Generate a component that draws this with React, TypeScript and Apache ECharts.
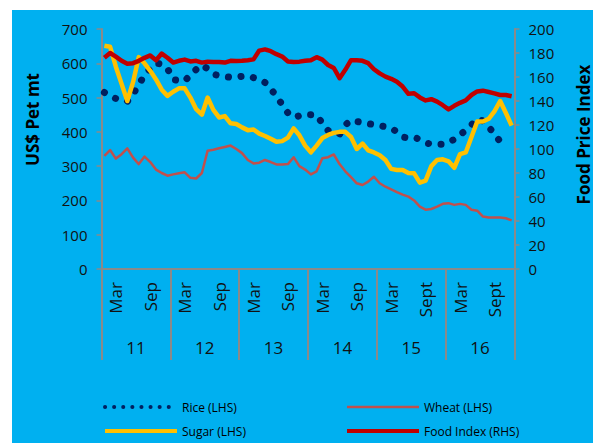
import React, { useEffect, useRef } from 'react';
import * as echarts from 'echarts';

const years = ['11', '12', '13', '14', '15', '16'];
const monthNames = ['Jan', 'Feb', 'Mar', 'Apr', 'May', 'Jun', 'Jul', 'Aug', 'Sep', 'Oct', 'Nov', 'Dec'];
const septLabelByYear = ['Sep', 'Sep', 'Sep', 'Sep', 'Sept', 'Sept'];
const shownMonths = [2, 8];

const leftTicks = { min: 0, max: 700, interval: 100 };
const rightTicks = { min: 0, max: 200, interval: 20 };

const rice = [
  515, 505, 497, 493, 489, 510, 538, 565, 585, 600, 598, 585,
  552, 550, 548, 566, 582, 595, 584, 568, 564, 561, 559, 560,
  562, 563, 558, 553, 544, 525, 505, 479, 455, 442, 447, 451,
  450, 449, 425, 404, 397, 393, 420, 434, 430, 428, 424, 421,
  418, 415, 411, 400, 385, 382, 384, 378, 368, 364, 364, 364,
  370, 378, 392, 404, 420, 438, 432, 415, 393, 372, null, null,
];
const wheat = [
  330, 347, 322, 335, 352, 325, 306, 328, 312, 290, 280, 272,
  276, 279, 282, 266, 264, 280, 345, 348, 352, 356, 360, 350,
  338, 318, 308, 310, 318, 312, 305, 305, 306, 326, 300, 290,
  276, 285, 323, 326, 334, 306, 285, 268, 250, 245, 255, 269,
  250, 240, 232, 224, 217, 211, 200, 182, 173, 175, 182, 190,
  192, 187, 190, 187, 173, 170, 153, 150, 150, 150, 148, 142,
];
const sugar = [
  651, 648, 590, 540, 490, 545, 618, 600, 578, 553, 523, 505,
  517, 527, 527, 500, 466, 450, 500, 464, 442, 446, 425, 423,
  413, 405, 407, 395, 388, 380, 371, 373, 383, 410, 390, 360,
  340, 360, 382, 391, 397, 400, 400, 385, 350, 366, 346, 340,
  332, 318, 292, 289, 289, 280, 279, 252, 258, 300, 318, 320,
  314, 295, 335, 340, 385, 430, 430, 438, 460, 490, 455, 418,
];
const foodIndex = [
  176, 180, 177, 173.5, 171, 171.5, 173.5, 176, 178, 174, 179.5, 176,
  172, 173.5, 174.5, 173, 173.5, 172, 172.8, 172.5, 172.5, 172, 173.5, 173.3,
  173.5, 174, 174.7, 182, 183, 181.5, 179, 177, 173, 172.5, 172.8, 173.5,
  174, 176.5, 174.5, 170, 167.5, 159, 166, 174, 174, 173.5, 171.5, 166.5,
  163, 160.3, 158.5, 156, 152, 146, 146.5, 143, 140.5, 141.5, 139.5, 136.5,
  133, 136, 138.5, 140.5, 145, 148, 148.6, 147.5, 146.4, 145, 145, 144,
];

const seriesNames = ['Rice (LHS)', 'Wheat (LHS)', 'Sugar (LHS)', 'Food Index (RHS)'];
const leftTitle = 'US$ Pet mt';
const rightTitle = 'Food Price Index';

const months = years.flatMap((_, yi) =>
  monthNames.map((m, mi) => (mi === 8 ? septLabelByYear[yi] : m))
);

const FONT = "'Open Sans', 'Noto Sans', sans-serif";
const AXIS_GRAY = '#8a8a8a';
const TEXT = '#111111';
const COLORS = { rice: '#002060', wheat: '#C0504D', sugar: '#FFC000', food: '#C00000' };

const legendBase = {
  orient: 'vertical',
  top: 391,
  padding: 0,
  itemWidth: 72,
  itemHeight: 14,
  itemGap: 12,
  textStyle: { fontSize: 12, color: '#000', fontFamily: FONT },
  itemStyle: { opacity: 0 },
};

export default function App() {
  const ref = useRef<HTMLDivElement>(null);
  useEffect(() => {
    if (!ref.current) return;
    const chart = echarts.init(ref.current, null, { renderer: 'svg' });
    const axisLine = { show: true, lineStyle: { color: AXIS_GRAY, width: 2 } };
    chart.setOption({
      animation: false,
      backgroundColor: '#00B0F0',
      textStyle: { fontFamily: FONT },
      grid: { left: 89.5, right: 78.5, top: 19, bottom: 174, containLabel: false },
      xAxis: [
        {
          type: 'category',
          data: months,
          position: 'bottom',
          boundaryGap: true,
          axisLine,
          axisTick: { show: false },
          axisLabel: {
            interval: (index: number) => shownMonths.includes(index % 12),
            rotate: 90,
            margin: 13,
            fontSize: 17,
            color: TEXT,
            fontFamily: FONT,
          },
          splitLine: { show: false },
        },
        {
          type: 'category',
          data: years,
          position: 'bottom',
          boundaryGap: true,
          axisLine: { show: false },
          axisTick: { show: true, length: 91, lineStyle: { color: AXIS_GRAY, width: 2 } },
          axisLabel: { margin: 70, fontSize: 17, color: TEXT, fontFamily: FONT },
          splitLine: { show: false },
        },
      ],
      yAxis: [
        {
          type: 'value',
          position: 'left',
          ...leftTicks,
          axisLine,
          axisTick: { show: true, length: 5, lineStyle: { color: AXIS_GRAY, width: 1.5 } },
          axisLabel: { margin: 14, fontSize: 15, color: TEXT, fontFamily: FONT },
          splitLine: { show: false },
        },
        {
          type: 'value',
          position: 'right',
          ...rightTicks,
          axisLine,
          axisTick: { show: true, length: 5, lineStyle: { color: AXIS_GRAY, width: 1.5 } },
          axisLabel: { margin: 14, fontSize: 15, color: TEXT, fontFamily: FONT },
          splitLine: { show: false },
        },
      ],
      legend: [
        {
          ...legendBase,
          left: 91,
          data: [
            { name: seriesNames[0], lineStyle: { color: COLORS.rice, width: 4, type: [0.1, 9], cap: 'round' } },
            { name: seriesNames[2], lineStyle: { color: COLORS.sugar, width: 4, type: 'solid' } },
          ],
        },
        {
          ...legendBase,
          left: 333,
          data: [
            { name: seriesNames[1], lineStyle: { color: COLORS.wheat, width: 2.5, type: 'solid' } },
            { name: seriesNames[3], lineStyle: { color: COLORS.food, width: 4, type: 'solid' } },
          ],
        },
      ],
      graphic: [
        {
          type: 'text',
          x: 20,
          y: 109.5,
          rotation: Math.PI / 2,
          style: { text: leftTitle, font: `bold 17px ${FONT}`, fill: '#000', align: 'center', verticalAlign: 'middle' },
        },
        {
          type: 'text',
          x: 571,
          y: 124.5,
          rotation: Math.PI / 2,
          style: { text: rightTitle, font: `bold 17px ${FONT}`, fill: '#000', align: 'center', verticalAlign: 'middle' },
        },
      ],
      series: [
        {
          name: seriesNames[0],
          type: 'line',
          xAxisIndex: 0,
          yAxisIndex: 0,
          data: rice,
          symbol: 'none',
          lineStyle: { color: COLORS.rice, width: 7, type: [0.1, 12.5], cap: 'round', join: 'round' },
          itemStyle: { color: COLORS.rice },
        },
        {
          name: seriesNames[1],
          type: 'line',
          xAxisIndex: 0,
          yAxisIndex: 0,
          data: wheat,
          symbol: 'none',
          lineStyle: { color: COLORS.wheat, width: 2.5, join: 'round' },
          itemStyle: { color: COLORS.wheat },
        },
        {
          name: seriesNames[2],
          type: 'line',
          xAxisIndex: 0,
          yAxisIndex: 0,
          data: sugar,
          symbol: 'none',
          lineStyle: { color: COLORS.sugar, width: 4.5, join: 'round' },
          itemStyle: { color: COLORS.sugar },
        },
        {
          name: seriesNames[3],
          type: 'line',
          xAxisIndex: 0,
          yAxisIndex: 1,
          data: foodIndex,
          symbol: 'none',
          lineStyle: { color: COLORS.food, width: 4.5, join: 'round' },
          itemStyle: { color: COLORS.food },
        },
      ],
    });
    return () => chart.dispose();
  }, []);
  return (
    <div
      ref={ref}
      style={{ position: 'fixed', left: 12, top: 10, width: 581, height: 433 }}
    />
  );
}
